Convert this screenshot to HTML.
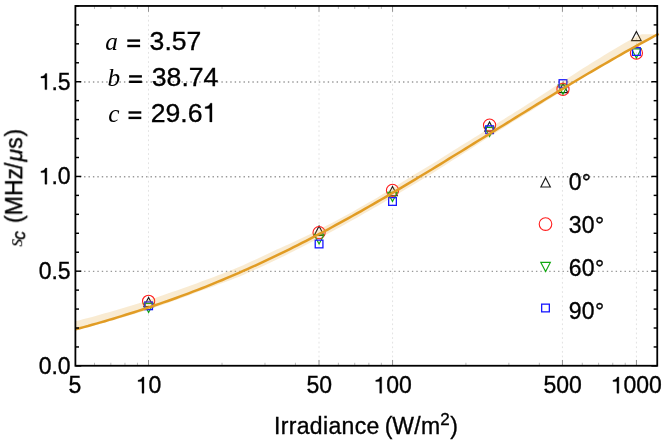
<!DOCTYPE html>
<html><head><meta charset="utf-8"><title>plot</title>
<style>
html,body{margin:0;padding:0;background:#fff;}
svg{display:block;}
text{font-family:"Liberation Sans",sans-serif;fill:#000;}
#txt{opacity:0.999;}
#txt text{stroke:#000;stroke-width:0.35px;}
#txt text.it,#txt tspan.it{stroke:none;}
.it{font-family:"Liberation Serif",serif;font-style:italic;}
</style></head><body>
<svg width="664" height="442" viewBox="0 0 664 442">
<rect width="664" height="442" fill="#fff"/>
<g id="grid">
<line x1="75.4" x2="657.25" y1="271.42" y2="271.42" stroke="#999" stroke-width="1.4" stroke-dasharray="1.4 3.03" stroke-dashoffset="0.2"/>
<line x1="75.4" x2="657.25" y1="176.70" y2="176.70" stroke="#999" stroke-width="1.4" stroke-dasharray="1.4 3.03" stroke-dashoffset="0.2"/>
<line x1="75.4" x2="657.25" y1="81.98" y2="81.98" stroke="#999" stroke-width="1.4" stroke-dasharray="1.4 3.03" stroke-dashoffset="0.2"/>
<line x1="148.50" x2="148.50" y1="5.95" y2="365.75" stroke="#dcdcdc" stroke-width="0.8" stroke-dasharray="1.8 2.8"/>
<line x1="319.00" x2="319.00" y1="5.95" y2="365.75" stroke="#dcdcdc" stroke-width="0.8" stroke-dasharray="1.8 2.8"/>
<line x1="392.55" x2="392.55" y1="5.95" y2="365.75" stroke="#dcdcdc" stroke-width="0.8" stroke-dasharray="1.8 2.8"/>
<line x1="562.45" x2="562.45" y1="5.95" y2="365.75" stroke="#dcdcdc" stroke-width="0.8" stroke-dasharray="1.8 2.8"/>
<line x1="636.45" x2="636.45" y1="5.95" y2="365.75" stroke="#dcdcdc" stroke-width="0.8" stroke-dasharray="1.8 2.8"/>
</g>
<g id="markers">
<path d="M143.85,306.60 L148.60,297.40 L153.35,306.60Z" fill="none" stroke="#1a1a1a" stroke-width="1.15"/>
<path d="M314.33,235.30 L319.08,226.10 L323.83,235.30Z" fill="none" stroke="#1a1a1a" stroke-width="1.15"/>
<path d="M387.75,195.70 L392.50,186.50 L397.25,195.70Z" fill="none" stroke="#1a1a1a" stroke-width="1.15"/>
<path d="M484.81,131.10 L489.56,121.90 L494.31,131.10Z" fill="none" stroke="#1a1a1a" stroke-width="1.15"/>
<path d="M558.23,92.60 L562.98,83.40 L567.73,92.60Z" fill="none" stroke="#1a1a1a" stroke-width="1.15"/>
<path d="M631.65,40.60 L636.40,31.40 L641.15,40.60Z" fill="none" stroke="#1a1a1a" stroke-width="1.15"/>
<circle cx="148.60" cy="301.30" r="6.10" fill="none" stroke="#ff1c1c" stroke-width="1.1"/>
<circle cx="319.08" cy="232.60" r="6.10" fill="none" stroke="#ff1c1c" stroke-width="1.1"/>
<circle cx="392.50" cy="190.40" r="6.10" fill="none" stroke="#ff1c1c" stroke-width="1.1"/>
<circle cx="489.56" cy="125.10" r="6.10" fill="none" stroke="#ff1c1c" stroke-width="1.1"/>
<circle cx="562.98" cy="89.30" r="6.10" fill="none" stroke="#ff1c1c" stroke-width="1.1"/>
<circle cx="636.40" cy="53.00" r="6.10" fill="none" stroke="#ff1c1c" stroke-width="1.1"/>
<path d="M143.85,303.30 L148.60,312.50 L153.35,303.30Z" fill="none" stroke="#10a810" stroke-width="1.15"/>
<path d="M314.33,234.90 L319.08,244.10 L323.83,234.90Z" fill="none" stroke="#10a810" stroke-width="1.15"/>
<path d="M387.75,192.40 L392.50,201.60 L397.25,192.40Z" fill="none" stroke="#10a810" stroke-width="1.15"/>
<path d="M484.81,127.40 L489.56,136.60 L494.31,127.40Z" fill="none" stroke="#10a810" stroke-width="1.15"/>
<path d="M558.23,85.00 L562.98,94.20 L567.73,85.00Z" fill="none" stroke="#10a810" stroke-width="1.15"/>
<path d="M631.65,48.90 L636.40,58.10 L641.15,48.90Z" fill="none" stroke="#10a810" stroke-width="1.15"/>
<rect x="144.75" y="301.95" width="7.70" height="7.70" fill="none" stroke="#1818ff" stroke-width="1.3"/>
<rect x="315.23" y="240.15" width="7.70" height="7.70" fill="none" stroke="#1818ff" stroke-width="1.3"/>
<rect x="388.65" y="197.65" width="7.70" height="7.70" fill="none" stroke="#1818ff" stroke-width="1.3"/>
<rect x="485.71" y="125.85" width="7.70" height="7.70" fill="none" stroke="#1818ff" stroke-width="1.3"/>
<rect x="559.13" y="79.75" width="7.70" height="7.70" fill="none" stroke="#1818ff" stroke-width="1.3"/>
<rect x="632.55" y="47.65" width="7.70" height="7.70" fill="none" stroke="#1818ff" stroke-width="1.3"/>
</g>
<path d="M75.4,321.2 L79.6,320.2 L83.8,319.1 L88.0,318.0 L92.2,316.9 L96.4,315.7 L100.6,314.5 L104.8,313.3 L109.0,312.2 L113.2,311.0 L117.4,309.8 L121.6,308.5 L125.8,307.3 L129.9,306.0 L134.1,304.7 L138.3,303.4 L142.5,302.1 L146.7,300.7 L150.9,299.3 L155.1,297.9 L159.3,296.5 L163.5,295.0 L167.7,293.5 L171.9,292.1 L176.1,290.7 L180.3,289.2 L184.5,287.7 L188.7,286.2 L192.9,284.7 L197.1,283.2 L201.3,281.6 L205.5,280.1 L209.7,278.5 L213.9,276.9 L218.1,275.3 L222.3,273.7 L226.5,272.1 L230.7,270.4 L234.8,268.7 L239.0,267.0 L243.2,265.2 L247.4,263.2 L251.6,261.3 L255.8,259.4 L260.0,257.4 L264.2,255.4 L268.4,253.4 L272.6,251.5 L276.8,249.6 L281.0,247.7 L285.2,245.8 L289.4,243.9 L293.6,241.9 L297.8,240.0 L302.0,238.0 L306.2,236.0 L310.4,233.9 L314.6,231.8 L318.8,229.7 L323.0,227.5 L327.2,225.3 L331.4,223.2 L335.6,221.0 L339.8,218.8 L343.9,216.5 L348.1,214.2 L352.3,211.9 L356.5,209.5 L360.7,207.1 L364.9,204.7 L369.1,202.3 L373.3,199.9 L377.5,197.4 L381.7,194.8 L385.9,192.2 L390.1,189.6 L394.3,187.0 L398.5,184.4 L402.7,181.7 L406.9,179.2 L411.1,176.6 L415.3,174.1 L419.5,171.6 L423.7,169.1 L427.9,166.5 L432.1,164.0 L436.3,161.4 L440.5,158.7 L444.7,156.1 L448.8,153.4 L453.0,150.8 L457.2,148.2 L461.4,145.6 L465.6,143.0 L469.8,140.4 L474.0,137.8 L478.2,135.2 L482.4,132.5 L486.6,129.9 L490.8,127.3 L495.0,124.7 L499.2,122.1 L503.4,119.4 L507.6,116.8 L511.8,114.2 L516.0,111.5 L520.2,108.9 L524.4,106.3 L528.6,103.6 L532.8,101.0 L537.0,98.3 L541.2,95.5 L545.4,92.8 L549.6,90.0 L553.7,87.3 L557.9,84.5 L562.1,81.8 L566.3,79.1 L570.5,76.4 L574.7,73.7 L578.9,71.0 L583.1,68.3 L587.3,65.7 L591.5,63.1 L595.7,60.5 L599.9,57.9 L604.1,55.3 L608.3,52.8 L612.5,50.2 L616.7,47.7 L620.9,45.3 L625.1,42.8 L629.3,40.4 L633.5,38.0 L637.7,35.6 L641.9,34.2 L646.1,34.2 L650.3,34.2 L654.5,34.2 L654.5,37.1 L650.3,39.3 L646.1,41.6 L641.9,43.8 L637.7,46.1 L633.5,48.4 L629.3,50.7 L625.1,53.1 L620.9,55.4 L616.7,57.8 L612.5,60.2 L608.3,62.6 L604.1,65.1 L599.9,67.6 L595.7,70.1 L591.5,72.6 L587.3,75.1 L583.1,77.7 L578.9,80.3 L574.7,82.9 L570.5,85.6 L566.3,88.2 L562.1,90.9 L557.9,93.6 L553.7,96.2 L549.6,98.9 L545.4,101.6 L541.2,104.3 L537.0,107.0 L532.8,109.7 L528.6,112.3 L524.4,114.8 L520.2,117.4 L516.0,120.0 L511.8,122.6 L507.6,125.2 L503.4,127.9 L499.2,130.6 L495.0,133.2 L490.8,135.9 L486.6,138.6 L482.4,141.3 L478.2,144.0 L474.0,146.7 L469.8,149.4 L465.6,152.0 L461.4,154.7 L457.2,157.4 L453.0,160.0 L448.8,162.7 L444.7,165.4 L440.5,168.1 L436.3,170.8 L432.1,173.4 L427.9,176.0 L423.7,178.5 L419.5,181.1 L415.3,183.6 L411.1,186.1 L406.9,188.6 L402.7,191.1 L398.5,193.6 L394.3,196.1 L390.1,198.6 L385.9,201.0 L381.7,203.5 L377.5,205.9 L373.3,208.3 L369.1,210.7 L364.9,213.1 L360.7,215.5 L356.5,217.9 L352.3,220.3 L348.1,222.6 L343.9,225.0 L339.8,227.2 L335.6,229.5 L331.4,231.7 L327.2,233.9 L323.0,236.1 L318.8,238.3 L314.6,240.5 L310.4,242.6 L306.2,244.8 L302.0,246.9 L297.8,249.1 L293.6,251.2 L289.4,253.3 L285.2,255.4 L281.0,257.5 L276.8,259.5 L272.6,261.5 L268.4,263.5 L264.2,265.5 L260.0,267.4 L255.8,269.3 L251.6,271.2 L247.4,273.1 L243.2,274.9 L239.0,276.7 L234.8,278.3 L230.7,279.9 L226.5,281.5 L222.3,283.1 L218.1,284.6 L213.9,286.2 L209.7,287.7 L205.5,289.2 L201.3,290.6 L197.1,292.2 L192.9,293.8 L188.7,295.4 L184.5,297.0 L180.3,298.5 L176.1,300.1 L171.9,301.6 L167.7,303.0 L163.5,304.5 L159.3,305.9 L155.1,307.3 L150.9,308.7 L146.7,310.1 L142.5,311.4 L138.3,312.7 L134.1,314.0 L129.9,315.3 L125.8,316.6 L121.6,317.8 L117.4,319.0 L113.2,320.2 L109.0,321.4 L104.8,322.5 L100.6,323.7 L96.4,324.8 L92.2,326.0 L88.0,327.1 L83.8,328.1 L79.6,329.2 L75.4,330.2Z" fill="#e19c24" fill-opacity="0.205" stroke="none"/>
<path d="M75.4,329.4 L79.6,328.3 L83.8,327.1 L88.0,326.0 L92.2,324.8 L96.4,323.6 L100.6,322.4 L104.8,321.2 L109.0,319.9 L113.2,318.7 L117.4,317.4 L121.6,316.1 L125.8,314.8 L129.9,313.5 L134.1,312.2 L138.3,310.9 L142.5,309.5 L146.7,308.1 L150.9,306.7 L155.1,305.3 L159.3,303.9 L163.5,302.4 L167.7,301.0 L171.9,299.5 L176.1,298.0 L180.3,296.4 L184.5,294.9 L188.7,293.3 L192.9,291.7 L197.1,290.1 L201.3,288.5 L205.5,286.8 L209.7,285.1 L213.9,283.4 L218.1,281.7 L222.3,280.0 L226.5,278.2 L230.7,276.4 L234.8,274.6 L239.0,272.8 L243.2,270.9 L247.4,269.1 L251.6,267.2 L255.8,265.3 L260.0,263.4 L264.2,261.4 L268.4,259.4 L272.6,257.4 L276.8,255.4 L281.0,253.4 L285.2,251.3 L289.4,249.3 L293.6,247.2 L297.8,245.1 L302.0,242.9 L306.2,240.8 L310.4,238.6 L314.6,236.4 L318.8,234.2 L323.0,232.0 L327.2,229.8 L331.4,227.5 L335.6,225.2 L339.8,222.9 L343.9,220.6 L348.1,218.3 L352.3,216.0 L356.5,213.6 L360.7,211.3 L364.9,208.9 L369.1,206.5 L373.3,204.1 L377.5,201.7 L381.7,199.2 L385.9,196.8 L390.1,194.3 L394.3,191.9 L398.5,189.4 L402.7,186.9 L406.9,184.4 L411.1,181.9 L415.3,179.4 L419.5,176.8 L423.7,174.3 L427.9,171.7 L432.1,169.2 L436.3,166.6 L440.5,164.1 L444.7,161.5 L448.8,158.9 L453.0,156.3 L457.2,153.8 L461.4,151.2 L465.6,148.6 L469.8,146.0 L474.0,143.4 L478.2,140.8 L482.4,138.2 L486.6,135.6 L490.8,133.0 L495.0,130.4 L499.2,127.8 L503.4,125.2 L507.6,122.6 L511.8,120.0 L516.0,117.4 L520.2,114.8 L524.4,112.2 L528.6,109.6 L532.8,107.0 L537.0,104.4 L541.2,101.9 L545.4,99.3 L549.6,96.7 L553.7,94.2 L557.9,91.6 L562.1,89.1 L566.3,86.6 L570.5,84.0 L574.7,81.5 L578.9,79.0 L583.1,76.5 L587.3,74.0 L591.5,71.6 L595.7,69.1 L599.9,66.7 L604.1,64.2 L608.3,61.8 L612.5,59.4 L616.7,57.0 L620.9,54.6 L625.1,52.2 L629.3,49.9 L633.5,47.5 L637.7,45.2 L641.9,42.9 L646.1,40.6 L650.3,38.3 L654.5,36.0 L658.6,33.8" fill="none" stroke="#e19c24" stroke-width="2.5" stroke-linejoin="round"/>
<g id="ticks">
<line x1="75.4" x2="81.30000000000001" y1="365.90" y2="365.90" stroke="#000" stroke-width="1.45"/>
<line x1="657.25" x2="651.35" y1="365.90" y2="365.90" stroke="#000" stroke-width="1.45"/>
<line x1="75.4" x2="79.0" y1="346.95" y2="346.95" stroke="#000" stroke-width="1.45"/>
<line x1="657.25" x2="653.65" y1="346.95" y2="346.95" stroke="#000" stroke-width="1.45"/>
<line x1="75.4" x2="79.0" y1="328.01" y2="328.01" stroke="#000" stroke-width="1.45"/>
<line x1="657.25" x2="653.65" y1="328.01" y2="328.01" stroke="#000" stroke-width="1.45"/>
<line x1="75.4" x2="79.0" y1="309.06" y2="309.06" stroke="#000" stroke-width="1.45"/>
<line x1="657.25" x2="653.65" y1="309.06" y2="309.06" stroke="#000" stroke-width="1.45"/>
<line x1="75.4" x2="79.0" y1="290.12" y2="290.12" stroke="#000" stroke-width="1.45"/>
<line x1="657.25" x2="653.65" y1="290.12" y2="290.12" stroke="#000" stroke-width="1.45"/>
<line x1="75.4" x2="81.30000000000001" y1="271.17" y2="271.17" stroke="#000" stroke-width="1.45"/>
<line x1="657.25" x2="651.35" y1="271.17" y2="271.17" stroke="#000" stroke-width="1.45"/>
<line x1="75.4" x2="79.0" y1="252.23" y2="252.23" stroke="#000" stroke-width="1.45"/>
<line x1="657.25" x2="653.65" y1="252.23" y2="252.23" stroke="#000" stroke-width="1.45"/>
<line x1="75.4" x2="79.0" y1="233.28" y2="233.28" stroke="#000" stroke-width="1.45"/>
<line x1="657.25" x2="653.65" y1="233.28" y2="233.28" stroke="#000" stroke-width="1.45"/>
<line x1="75.4" x2="79.0" y1="214.34" y2="214.34" stroke="#000" stroke-width="1.45"/>
<line x1="657.25" x2="653.65" y1="214.34" y2="214.34" stroke="#000" stroke-width="1.45"/>
<line x1="75.4" x2="79.0" y1="195.39" y2="195.39" stroke="#000" stroke-width="1.45"/>
<line x1="657.25" x2="653.65" y1="195.39" y2="195.39" stroke="#000" stroke-width="1.45"/>
<line x1="75.4" x2="81.30000000000001" y1="176.45" y2="176.45" stroke="#000" stroke-width="1.45"/>
<line x1="657.25" x2="651.35" y1="176.45" y2="176.45" stroke="#000" stroke-width="1.45"/>
<line x1="75.4" x2="79.0" y1="157.50" y2="157.50" stroke="#000" stroke-width="1.45"/>
<line x1="657.25" x2="653.65" y1="157.50" y2="157.50" stroke="#000" stroke-width="1.45"/>
<line x1="75.4" x2="79.0" y1="138.56" y2="138.56" stroke="#000" stroke-width="1.45"/>
<line x1="657.25" x2="653.65" y1="138.56" y2="138.56" stroke="#000" stroke-width="1.45"/>
<line x1="75.4" x2="79.0" y1="119.61" y2="119.61" stroke="#000" stroke-width="1.45"/>
<line x1="657.25" x2="653.65" y1="119.61" y2="119.61" stroke="#000" stroke-width="1.45"/>
<line x1="75.4" x2="79.0" y1="100.67" y2="100.67" stroke="#000" stroke-width="1.45"/>
<line x1="657.25" x2="653.65" y1="100.67" y2="100.67" stroke="#000" stroke-width="1.45"/>
<line x1="75.4" x2="81.30000000000001" y1="81.73" y2="81.73" stroke="#000" stroke-width="1.45"/>
<line x1="657.25" x2="651.35" y1="81.73" y2="81.73" stroke="#000" stroke-width="1.45"/>
<line x1="75.4" x2="79.0" y1="62.78" y2="62.78" stroke="#000" stroke-width="1.45"/>
<line x1="657.25" x2="653.65" y1="62.78" y2="62.78" stroke="#000" stroke-width="1.45"/>
<line x1="75.4" x2="79.0" y1="43.83" y2="43.83" stroke="#000" stroke-width="1.45"/>
<line x1="657.25" x2="653.65" y1="43.83" y2="43.83" stroke="#000" stroke-width="1.45"/>
<line x1="75.4" x2="79.0" y1="24.89" y2="24.89" stroke="#000" stroke-width="1.45"/>
<line x1="657.25" x2="653.65" y1="24.89" y2="24.89" stroke="#000" stroke-width="1.45"/>
<line x1="75.4" x2="79.0" y1="5.94" y2="5.94" stroke="#000" stroke-width="1.45"/>
<line x1="657.25" x2="653.65" y1="5.94" y2="5.94" stroke="#000" stroke-width="1.45"/>
<line x1="94.49" x2="94.49" y1="365.75" y2="362.75" stroke="#a8a8a8" stroke-width="0.8"/>
<line x1="94.49" x2="94.49" y1="5.95" y2="8.95" stroke="#a8a8a8" stroke-width="0.8"/>
<line x1="110.82" x2="110.82" y1="365.75" y2="362.75" stroke="#a8a8a8" stroke-width="0.8"/>
<line x1="110.82" x2="110.82" y1="5.95" y2="8.95" stroke="#a8a8a8" stroke-width="0.8"/>
<line x1="124.96" x2="124.96" y1="365.75" y2="362.75" stroke="#a8a8a8" stroke-width="0.8"/>
<line x1="124.96" x2="124.96" y1="5.95" y2="8.95" stroke="#a8a8a8" stroke-width="0.8"/>
<line x1="137.44" x2="137.44" y1="365.75" y2="362.75" stroke="#a8a8a8" stroke-width="0.8"/>
<line x1="137.44" x2="137.44" y1="5.95" y2="8.95" stroke="#a8a8a8" stroke-width="0.8"/>
<line x1="148.50" x2="148.50" y1="365.75" y2="359.95" stroke="#777" stroke-width="0.8"/>
<line x1="148.50" x2="148.50" y1="5.95" y2="11.75" stroke="#777" stroke-width="0.8"/>
<line x1="222.02" x2="222.02" y1="365.75" y2="362.75" stroke="#a8a8a8" stroke-width="0.8"/>
<line x1="222.02" x2="222.02" y1="5.95" y2="8.95" stroke="#a8a8a8" stroke-width="0.8"/>
<line x1="264.97" x2="264.97" y1="365.75" y2="362.75" stroke="#a8a8a8" stroke-width="0.8"/>
<line x1="264.97" x2="264.97" y1="5.95" y2="8.95" stroke="#a8a8a8" stroke-width="0.8"/>
<line x1="295.44" x2="295.44" y1="365.75" y2="362.75" stroke="#a8a8a8" stroke-width="0.8"/>
<line x1="295.44" x2="295.44" y1="5.95" y2="8.95" stroke="#a8a8a8" stroke-width="0.8"/>
<line x1="319.00" x2="319.00" y1="365.75" y2="359.95" stroke="#777" stroke-width="0.8"/>
<line x1="319.00" x2="319.00" y1="5.95" y2="11.75" stroke="#777" stroke-width="0.8"/>
<line x1="338.39" x2="338.39" y1="365.75" y2="362.75" stroke="#a8a8a8" stroke-width="0.8"/>
<line x1="338.39" x2="338.39" y1="5.95" y2="8.95" stroke="#a8a8a8" stroke-width="0.8"/>
<line x1="354.72" x2="354.72" y1="365.75" y2="362.75" stroke="#a8a8a8" stroke-width="0.8"/>
<line x1="354.72" x2="354.72" y1="5.95" y2="8.95" stroke="#a8a8a8" stroke-width="0.8"/>
<line x1="368.86" x2="368.86" y1="365.75" y2="362.75" stroke="#a8a8a8" stroke-width="0.8"/>
<line x1="368.86" x2="368.86" y1="5.95" y2="8.95" stroke="#a8a8a8" stroke-width="0.8"/>
<line x1="381.34" x2="381.34" y1="365.75" y2="362.75" stroke="#a8a8a8" stroke-width="0.8"/>
<line x1="381.34" x2="381.34" y1="5.95" y2="8.95" stroke="#a8a8a8" stroke-width="0.8"/>
<line x1="392.55" x2="392.55" y1="365.75" y2="359.95" stroke="#777" stroke-width="0.8"/>
<line x1="392.55" x2="392.55" y1="5.95" y2="11.75" stroke="#777" stroke-width="0.8"/>
<line x1="465.92" x2="465.92" y1="365.75" y2="362.75" stroke="#a8a8a8" stroke-width="0.8"/>
<line x1="465.92" x2="465.92" y1="5.95" y2="8.95" stroke="#a8a8a8" stroke-width="0.8"/>
<line x1="508.87" x2="508.87" y1="365.75" y2="362.75" stroke="#a8a8a8" stroke-width="0.8"/>
<line x1="508.87" x2="508.87" y1="5.95" y2="8.95" stroke="#a8a8a8" stroke-width="0.8"/>
<line x1="539.34" x2="539.34" y1="365.75" y2="362.75" stroke="#a8a8a8" stroke-width="0.8"/>
<line x1="539.34" x2="539.34" y1="5.95" y2="8.95" stroke="#a8a8a8" stroke-width="0.8"/>
<line x1="562.45" x2="562.45" y1="365.75" y2="359.95" stroke="#777" stroke-width="0.8"/>
<line x1="562.45" x2="562.45" y1="5.95" y2="11.75" stroke="#777" stroke-width="0.8"/>
<line x1="582.29" x2="582.29" y1="365.75" y2="362.75" stroke="#a8a8a8" stroke-width="0.8"/>
<line x1="582.29" x2="582.29" y1="5.95" y2="8.95" stroke="#a8a8a8" stroke-width="0.8"/>
<line x1="598.62" x2="598.62" y1="365.75" y2="362.75" stroke="#a8a8a8" stroke-width="0.8"/>
<line x1="598.62" x2="598.62" y1="5.95" y2="8.95" stroke="#a8a8a8" stroke-width="0.8"/>
<line x1="612.76" x2="612.76" y1="365.75" y2="362.75" stroke="#a8a8a8" stroke-width="0.8"/>
<line x1="612.76" x2="612.76" y1="5.95" y2="8.95" stroke="#a8a8a8" stroke-width="0.8"/>
<line x1="625.24" x2="625.24" y1="365.75" y2="362.75" stroke="#a8a8a8" stroke-width="0.8"/>
<line x1="625.24" x2="625.24" y1="5.95" y2="8.95" stroke="#a8a8a8" stroke-width="0.8"/>
<line x1="636.45" x2="636.45" y1="365.75" y2="359.95" stroke="#777" stroke-width="0.8"/>
<line x1="636.45" x2="636.45" y1="5.95" y2="11.75" stroke="#777" stroke-width="0.8"/>
</g>
<rect x="75.4" y="5.95" width="581.85" height="359.8" fill="none" stroke="#000" stroke-width="1.8"/>
<g id="txt">
<g id="labels">
<text x="38.63" y="373.6" font-size="23">0.0</text>
<text x="38.63" y="278.9" font-size="23">0.5</text>
<path d="M46.89,184.20 L44.93,184.20 L44.93,172.58 L40.95,172.58 L40.95,171.20 C43.23,170.91 44.79,169.89 45.46,168.03 L46.89,168.03 Z" fill="#000" stroke="#000" stroke-width="0.35" stroke-linejoin="round"/><text x="51.42" y="184.2" font-size="23">.0</text>
<path d="M46.89,89.60 L44.93,89.60 L44.93,77.98 L40.95,77.98 L40.95,76.60 C43.23,76.31 44.79,75.29 45.46,73.43 L46.89,73.43 Z" fill="#000" stroke="#000" stroke-width="0.35" stroke-linejoin="round"/><text x="51.42" y="89.6" font-size="23">.5</text>
<text x="68.61" y="393.2" font-size="23">5</text>
<path d="M143.97,393.20 L142.01,393.20 L142.01,381.58 L138.03,381.58 L138.03,380.20 C140.31,379.91 141.88,378.89 142.54,377.03 L143.97,377.03 Z" fill="#000" stroke="#000" stroke-width="0.35" stroke-linejoin="round"/><text x="148.50" y="393.2" font-size="23">0</text>
<text x="306.41" y="393.2" font-size="23">50</text>
<path d="M381.68,393.20 L379.72,393.20 L379.72,381.58 L375.74,381.58 L375.74,380.20 C378.02,379.91 379.58,378.89 380.25,377.03 L381.68,377.03 Z" fill="#000" stroke="#000" stroke-width="0.35" stroke-linejoin="round"/><text x="386.21" y="393.2" font-size="23">00</text>
<text x="543.52" y="393.2" font-size="23">500</text>
<path d="M618.88,393.20 L616.93,393.20 L616.93,381.58 L612.95,381.58 L612.95,380.20 C615.22,379.91 616.79,378.89 617.46,377.03 L618.88,377.03 Z" fill="#000" stroke="#000" stroke-width="0.35" stroke-linejoin="round"/><text x="623.41" y="393.2" font-size="23">000</text>
</g>
<g id="legend">
<path d="M540.85,187.00 L545.60,177.80 L550.35,187.00Z" fill="none" stroke="#1a1a1a" stroke-width="1.15"/>
<circle cx="545.50" cy="224.10" r="6.30" fill="none" stroke="#ff1c1c" stroke-width="1.1"/>
<path d="M540.85,262.40 L545.60,271.60 L550.35,262.40Z" fill="none" stroke="#10a810" stroke-width="1.15"/>
<rect x="541.65" y="304.15" width="7.70" height="7.70" fill="none" stroke="#1818ff" stroke-width="1.3"/>
<text x="568.8" y="190.2" font-size="23" letter-spacing="0.25">0°</text>
<text x="568.8" y="233.2" font-size="23" letter-spacing="0.25">30°</text>
<text x="568.8" y="276.0" font-size="23" letter-spacing="0.25">60°</text>
<text x="568.8" y="318.9" font-size="23" letter-spacing="0.25">90°</text>
</g>
<g id="ann" font-size="26.6">
<text x="105.2" y="50.1" class="it" font-size="25.3">a</text>
<rect x="127.3" y="39.4" width="12.8" height="2.4"/><rect x="127.3" y="44.8" width="12.8" height="2.4"/>
<text x="149.6" y="49.8">3.57</text>
<text x="107.4" y="85.9" class="it" font-size="25.3">b</text>
<rect x="129.1" y="75.2" width="12.8" height="2.4"/><rect x="129.1" y="80.6" width="12.8" height="2.4"/>
<text x="151.8" y="85.6">38.74</text>
<text x="108.2" y="121.7" class="it" font-size="25.3">c</text>
<rect x="128.5" y="111.3" width="12.8" height="2.4"/><rect x="128.5" y="116.7" width="12.8" height="2.4"/>
<text x="150.70" y="121.9" font-size="26.6">29.6</text><path d="M212.01,121.90 L209.75,121.90 L209.75,108.47 L205.15,108.47 L205.15,106.87 C207.78,106.53 209.59,105.35 210.36,103.20 L212.01,103.20 Z" fill="#000" stroke="#000" stroke-width="0.35" stroke-linejoin="round"/>
</g>
<text x="273.9" y="434.2" font-size="23" letter-spacing="0.36">Irradiance<tspan dx="-1.8"> (</tspan><tspan dx="-0.5">W/m</tspan><tspan font-size="17" dy="-9.6" dx="-0.3">2</tspan><tspan dy="9.6">)</tspan></text>
<g transform="translate(22.2,247.3) rotate(-90)">
<text x="0" y="0" font-size="23"><tspan class="it" font-size="21.5" dx="0.4">s</tspan><tspan font-size="17.5" font-style="italic" dy="3.4" dx="-1.4">c</tspan><tspan dy="-3.4" dx="1.8"> (MHz</tspan><tspan dx="-1">/</tspan><tspan font-style="italic" dx="1.2">μ</tspan>s<tspan dx="0.9">)</tspan></text>
</g>
</g>
</svg>
</body></html>
